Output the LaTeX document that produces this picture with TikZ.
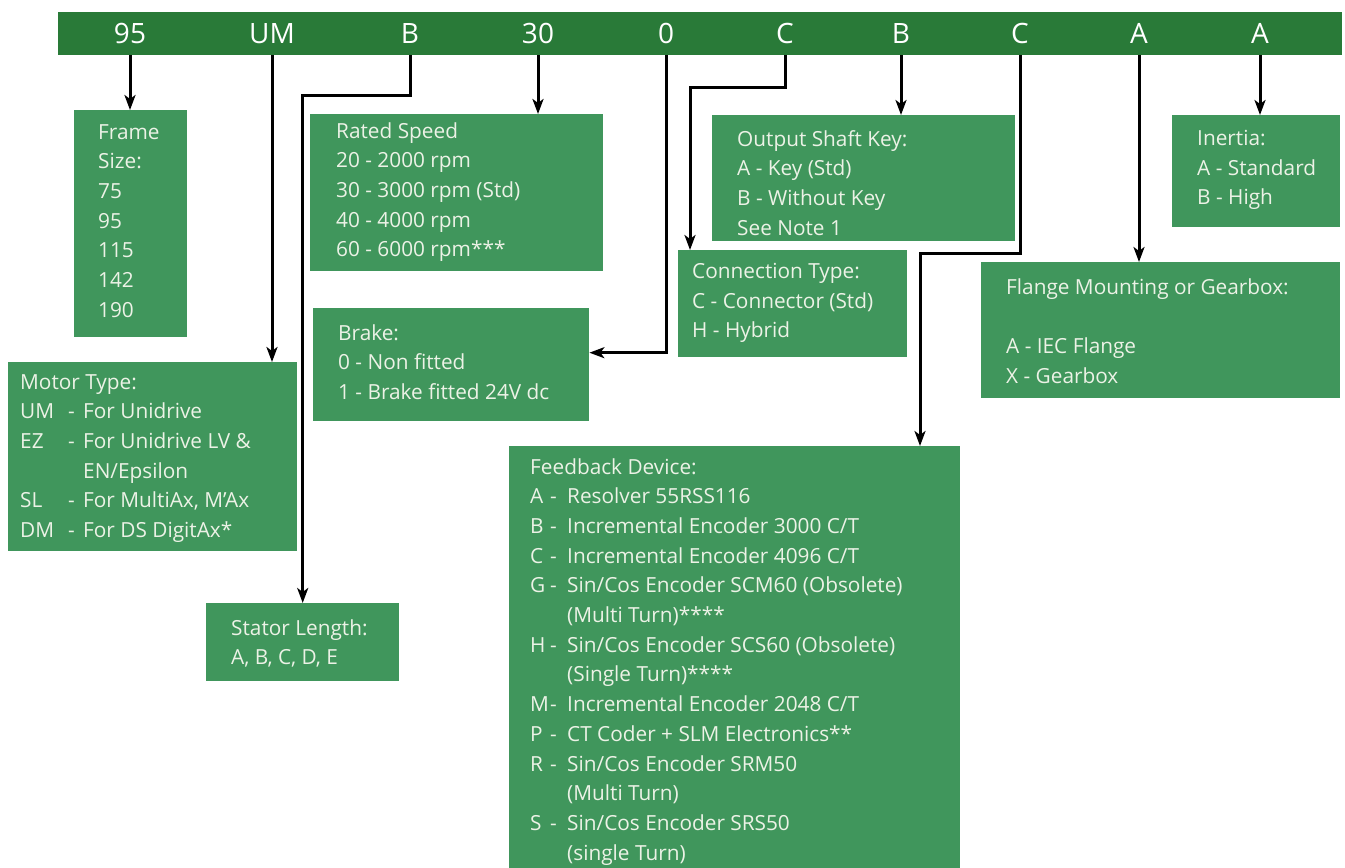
\documentclass[tikz,border=0pt]{standalone}
\usepackage{fontspec}
\setmainfont{Open Sans}
\usetikzlibrary{arrows.meta,calc}
\definecolor{barg}{RGB}{41,122,56}
\definecolor{boxg}{RGB}{64,150,92}
\definecolor{txtc}{RGB}{236,242,230}
\newcommand{\mline}[2]{\makebox[48pt][l]{#1}\makebox[15pt][l]{-}#2}
\newcommand{\fbline}[2]{\makebox[20pt][l]{#1}\makebox[17pt][l]{-}#2}
\begin{document}
\begin{tikzpicture}[x=1pt,y=-1pt,
 box/.style={fill=boxg,draw=none,inner sep=0,anchor=north west},
 txt/.style={text=txtc,font=\fontsize{20.8}{29.7}\selectfont,align=left,inner sep=0,anchor=north west},
 code/.style={text=white,font=\fontsize{28}{28}\selectfont,inner sep=0,minimum height=43pt},
 arr/.style={line width=3pt,-{Stealth[length=15pt,width=11pt,inset=4pt]}}]
\useasboundingbox (0,0) rectangle (1345,868);
% bar
\node[fill=barg,inner sep=0,minimum width=1284pt,minimum height=43pt,anchor=north west] (bar) at (58,12) {};
\node[code] (c1) at (130,33.5) {95};
\node[code] (c2) at (272,33.5) {UM};
\node[code] (c3) at (410,33.5) {B};
\node[code] (c4) at (538,33.5) {30};
\node[code] (c5) at (666,33.5) {0};
\node[code] (c6) at (785,33.5) {C};
\node[code] (c7) at (901,33.5) {B};
\node[code] (c8) at (1020,33.5) {C};
\node[code] (c9) at (1139,33.5) {A};
\node[code] (c10) at (1260,33.5) {A};
% boxes
\node[box,minimum width=113pt,minimum height=227pt] (frame) at (74,110) {};
\node[box,minimum width=289pt,minimum height=189pt] (motor) at (8,362) {};
\node[box,minimum width=193pt,minimum height=78pt] (stator) at (206,603) {};
\node[box,minimum width=293pt,minimum height=157pt] (speed) at (310,114) {};
\node[box,minimum width=276pt,minimum height=113pt] (brake) at (313,308) {};
\node[box,minimum width=229pt,minimum height=107pt] (conn) at (678,250) {};
\node[box,minimum width=303pt,minimum height=126pt] (shaft) at (712,115) {};
\node[box,minimum width=451pt,minimum height=422pt] (fb) at (509,446) {};
\node[box,minimum width=168pt,minimum height=112pt] (inertia) at (1172,115) {};
\node[box,minimum width=359pt,minimum height=136pt] (flange) at (981,262) {};
% texts
\node[txt] (frameT) at (98,124) {Frame\\Size:\\75\\95\\115\\142\\190};
\node[txt] (motorT) at (20,374) {Motor Type:\\\mline{UM}{For Unidrive}\\\mline{EZ}{For Unidrive LV \&}\\\hspace*{63pt}EN/Epsilon\\\mline{SL}{For MultiAx, M'Ax}\\\mline{DM}{For DS DigitAx*}};
\node[txt] (statorT) at (231,619) {Stator Length:\\A, B, C, D, E};
\node[txt] (speedT) at (336,122) {Rated Speed\\20 - 2000 rpm\\30 - 3000 rpm (Std)\\40 - 4000 rpm\\60 - 6000 rpm***};
\node[txt] (brakeT) at (338,324) {Brake:\\0 - Non fitted\\1 - Brake fitted 24V dc};
\node[txt] (connT) at (692,263) {Connection Type:\\C - Connector (Std)\\H - Hybrid};
\node[txt] (shaftT) at (737,130) {Output Shaft Key:\\A - Key (Std)\\B - Without Key\\See Note 1};
\node[txt] (inertiaT) at (1197,130) {Inertia:\\A - Standard\\B - High};
\node[txt] (flangeT) at (1006,278) {Flange Mounting or Gearbox:\\\mbox{}\\A - IEC Flange\\X - Gearbox};
\node[txt] (fbT) at (530,458) {Feedback Device:\\
\fbline{A}{Resolver 55RSS116}\\
\fbline{B}{Incremental Encoder 3000 C/T}\\
\fbline{C}{Incremental Encoder 4096 C/T}\\
\fbline{G}{Sin/Cos Encoder SCM60 (Obsolete)}\\
\hspace*{37pt}(Multi Turn)****\\
\fbline{H}{Sin/Cos Encoder SCS60 (Obsolete)}\\
\hspace*{37pt}(Single Turn)****\\
\fbline{M}{Incremental Encoder 2048 C/T}\\
\fbline{P}{CT Coder + SLM Electronics**}\\
\fbline{R}{Sin/Cos Encoder SRM50}\\
\hspace*{37pt}(Multi Turn)\\
\fbline{S}{Sin/Cos Encoder SRS50}\\
\hspace*{37pt}(single Turn)};
% connectors
\draw[arr] (c1.south) -- (c1.south |- frame.north);
\draw[arr] (c2.south) -- (c2.south |- motor.north);
\draw[arr] (c3.south) -- ++(0,40) -| (stator.north);
\draw[arr] (c4.south) -- (c4.south |- speed.north);
\draw[arr] (c5.south) |- ($(brake.east)+(0,-12)$);
\draw[arr] (c6.south) -- ++(0,32) -| ($(conn.north west)+(12,0)$);
\draw[arr] (c7.south) -- (c7.south |- shaft.north);
\draw[arr] (c8.south) -- ++(0,198) -| ($(fb.north west)+(411,0)$);
\draw[arr] (c9.south) -- (c9.south |- flange.north);
\draw[arr] (c10.south) -- (c10.south |- inertia.north);
\end{tikzpicture}
\end{document}
